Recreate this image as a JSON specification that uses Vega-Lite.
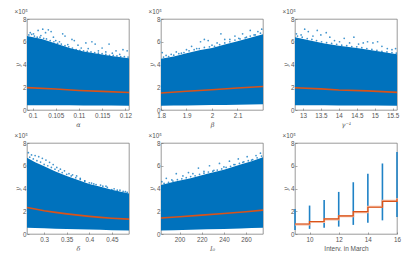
{
"$schema":"https://vega.github.io/schema/vega-lite/v6.json",
"padding":{"left":14,"top":8,"right":0,"bottom":0},
"background":"white",
"columns":3,
"spacing":{"row":33,"column":32},
"bounds":"flush",
"config":{
 "view":{"stroke":"#6e6e6e","strokeWidth":0.7},
 "axis":{"grid":false,"domain":false,"tickSize":-2,"tickWidth":0.5,"tickColor":"#555555","labelFont":"Liberation Sans","labelFontSize":6.3,"labelColor":"#555555","labelPadding":3,"labelOverlap":false,"labelSeparation":0,"titleFont":"DejaVu Serif","titleFontStyle":"italic","titleFontSize":6.5,"titleFontWeight":"normal","titleColor":"#555555","labelFlush":false},
 "axisX":{"labelPadding":4},
 "title":{"font":"Liberation Sans","fontSize":6.3,"fontWeight":"normal","color":"#555555","anchor":"start","offset":1}
},
"datasets":{
"aBand":[{"x":0.0988,"lo":42000,"hi":650000},{"x":0.102,"lo":42000,"hi":625000},{"x":0.105,"lo":41000,"hi":585000},{"x":0.108,"lo":41000,"hi":545000},{"x":0.111,"lo":40000,"hi":515000},{"x":0.114,"lo":40000,"hi":495000},{"x":0.117,"lo":39000,"hi":475000},{"x":0.1208,"lo":38000,"hi":455000}],
"aPts":[{"x":0.0992,"y":660000},{"x":0.0998,"y":665000},{"x":0.1004,"y":650000},{"x":0.101,"y":640000},{"x":0.1016,"y":640000},{"x":0.1024,"y":630000},{"x":0.103,"y":625000},{"x":0.1038,"y":610000},{"x":0.1046,"y":600000},{"x":0.1054,"y":585000},{"x":0.1062,"y":580000},{"x":0.107,"y":565000},{"x":0.1078,"y":555000},{"x":0.1086,"y":545000},{"x":0.1094,"y":530000},{"x":0.1102,"y":525000},{"x":0.111,"y":520000},{"x":0.1118,"y":515000},{"x":0.1126,"y":510000},{"x":0.1134,"y":505000},{"x":0.1142,"y":500000},{"x":0.115,"y":495000},{"x":0.1158,"y":490000},{"x":0.1166,"y":480000},{"x":0.1174,"y":480000},{"x":0.1182,"y":475000},{"x":0.119,"y":470000},{"x":0.1198,"y":470000},{"x":0.1206,"y":465000},{"x":0.0995,"y":680000},{"x":0.1002,"y":670000},{"x":0.1012,"y":700000},{"x":0.1018,"y":655000},{"x":0.1022,"y":710000},{"x":0.1028,"y":680000},{"x":0.1034,"y":705000},{"x":0.104,"y":690000},{"x":0.1045,"y":640000},{"x":0.105,"y":610000},{"x":0.1058,"y":600000},{"x":0.1065,"y":670000},{"x":0.107,"y":650000},{"x":0.1076,"y":575000},{"x":0.1085,"y":620000},{"x":0.109,"y":610000},{"x":0.1098,"y":570000},{"x":0.1105,"y":545000},{"x":0.1115,"y":590000},{"x":0.112,"y":540000},{"x":0.1128,"y":600000},{"x":0.1135,"y":580000},{"x":0.1142,"y":520000},{"x":0.115,"y":545000},{"x":0.1158,"y":510000},{"x":0.1165,"y":580000},{"x":0.1172,"y":500000},{"x":0.118,"y":520000},{"x":0.1188,"y":490000},{"x":0.1195,"y":530000},{"x":0.1204,"y":520000}],
"aLine":[{"x":0.0988,"m":197000},{"x":0.105,"m":184000},{"x":0.11,"m":172000},{"x":0.115,"m":164000},{"x":0.1208,"m":154000}],
"bBand":[{"x":1.8,"lo":38000,"hi":450000},{"x":1.85,"lo":39000,"hi":470000},{"x":1.9,"lo":40000,"hi":500000},{"x":1.95,"lo":41000,"hi":525000},{"x":2,"lo":43000,"hi":545000},{"x":2.05,"lo":45000,"hi":575000},{"x":2.1,"lo":46000,"hi":605000},{"x":2.15,"lo":48000,"hi":635000},{"x":2.2,"lo":50000,"hi":665000}],
"bPts":[{"x":1.81,"y":465000},{"x":1.83,"y":470000},{"x":1.85,"y":482000},{"x":1.87,"y":495000},{"x":1.89,"y":505000},{"x":1.91,"y":520000},{"x":1.93,"y":530000},{"x":1.95,"y":540000},{"x":1.97,"y":550000},{"x":1.99,"y":555000},{"x":2.01,"y":560000},{"x":2.03,"y":575000},{"x":2.05,"y":590000},{"x":2.07,"y":600000},{"x":2.09,"y":615000},{"x":2.11,"y":625000},{"x":2.13,"y":635000},{"x":2.15,"y":650000},{"x":2.17,"y":660000},{"x":2.19,"y":675000},{"x":1.805,"y":505000},{"x":1.82,"y":480000},{"x":1.84,"y":490000},{"x":1.86,"y":510000},{"x":1.88,"y":500000},{"x":1.9,"y":530000},{"x":1.92,"y":560000},{"x":1.94,"y":540000},{"x":1.955,"y":600000},{"x":1.97,"y":620000},{"x":1.985,"y":610000},{"x":2.0,"y":570000},{"x":2.02,"y":590000},{"x":2.035,"y":670000},{"x":2.05,"y":620000},{"x":2.07,"y":620000},{"x":2.09,"y":650000},{"x":2.105,"y":630000},{"x":2.12,"y":670000},{"x":2.135,"y":640000},{"x":2.15,"y":700000},{"x":2.165,"y":660000},{"x":2.18,"y":690000},{"x":2.195,"y":710000}],
"bLine":[{"x":1.8,"m":150000},{"x":1.9,"m":165000},{"x":2,"m":178000},{"x":2.1,"m":193000},{"x":2.2,"m":206000}],
"cBand":[{"x":12.78,"lo":42000,"hi":640000},{"x":13.2,"lo":42000,"hi":610000},{"x":13.6,"lo":41000,"hi":585000},{"x":14,"lo":40000,"hi":565000},{"x":14.5,"lo":40000,"hi":545000},{"x":15,"lo":39000,"hi":520000},{"x":15.62,"lo":38000,"hi":490000}],
"cPts":[{"x":12.85,"y":650000},{"x":12.98,"y":640000},{"x":13.12,"y":628000},{"x":13.25,"y":620000},{"x":13.38,"y":610000},{"x":13.52,"y":600000},{"x":13.66,"y":592000},{"x":13.8,"y":585000},{"x":13.94,"y":578000},{"x":14.08,"y":570000},{"x":14.22,"y":565000},{"x":14.36,"y":558000},{"x":14.5,"y":555000},{"x":14.64,"y":548000},{"x":14.78,"y":540000},{"x":14.92,"y":532000},{"x":15.06,"y":525000},{"x":15.2,"y":515000},{"x":15.34,"y":510000},{"x":15.48,"y":505000},{"x":15.6,"y":500000},{"x":12.82,"y":670000},{"x":12.95,"y":660000},{"x":13.05,"y":710000},{"x":13.15,"y":690000},{"x":13.28,"y":650000},{"x":13.4,"y":700000},{"x":13.5,"y":660000},{"x":13.65,"y":680000},{"x":13.75,"y":640000},{"x":13.88,"y":610000},{"x":14.02,"y":600000},{"x":14.15,"y":630000},{"x":14.3,"y":590000},{"x":14.42,"y":640000},{"x":14.55,"y":580000},{"x":14.68,"y":590000},{"x":14.8,"y":600000},{"x":14.95,"y":590000},{"x":15.08,"y":600000},{"x":15.2,"y":560000},{"x":15.35,"y":540000},{"x":15.48,"y":530000},{"x":15.58,"y":540000}],
"cLine":[{"x":12.78,"m":196000},{"x":13.5,"m":186000},{"x":14,"m":176000},{"x":14.8,"m":168000},{"x":15.62,"m":155000}],
"dBand":[{"x":0.262,"lo":55000,"hi":670000},{"x":0.28,"lo":52000,"hi":630000},{"x":0.3,"lo":50000,"hi":595000},{"x":0.325,"lo":47000,"hi":550000},{"x":0.35,"lo":45000,"hi":510000},{"x":0.375,"lo":42000,"hi":475000},{"x":0.4,"lo":39000,"hi":440000},{"x":0.425,"lo":37000,"hi":415000},{"x":0.45,"lo":34000,"hi":390000},{"x":0.488,"lo":30000,"hi":355000}],
"dPts":[{"x":0.265,"y":715000},{"x":0.272,"y":695000},{"x":0.28,"y":690000},{"x":0.288,"y":680000},{"x":0.296,"y":665000},{"x":0.304,"y":650000},{"x":0.312,"y":630000},{"x":0.32,"y":610000},{"x":0.328,"y":585000},{"x":0.336,"y":570000},{"x":0.345,"y":555000},{"x":0.355,"y":530000},{"x":0.363,"y":520000},{"x":0.372,"y":510000},{"x":0.38,"y":490000},{"x":0.39,"y":465000},{"x":0.4,"y":450000},{"x":0.41,"y":440000},{"x":0.425,"y":430000},{"x":0.437,"y":420000},{"x":0.45,"y":390000},{"x":0.462,"y":385000},{"x":0.475,"y":375000},{"x":0.484,"y":365000},{"x":0.268,"y":675000},{"x":0.276,"y":660000},{"x":0.284,"y":645000},{"x":0.292,"y":632000},{"x":0.3,"y":612000},{"x":0.308,"y":600000},{"x":0.316,"y":585000},{"x":0.324,"y":570000},{"x":0.332,"y":555000},{"x":0.34,"y":540000},{"x":0.35,"y":525000},{"x":0.36,"y":510000},{"x":0.37,"y":495000},{"x":0.38,"y":480000},{"x":0.39,"y":468000},{"x":0.405,"y":448000},{"x":0.415,"y":435000},{"x":0.43,"y":420000},{"x":0.44,"y":410000},{"x":0.455,"y":397000},{"x":0.468,"y":385000},{"x":0.48,"y":372000}],
"dLine":[{"x":0.262,"m":233000},{"x":0.28,"m":220000},{"x":0.3,"m":205000},{"x":0.325,"m":190000},{"x":0.35,"m":177000},{"x":0.375,"m":166000},{"x":0.4,"m":155000},{"x":0.425,"m":146000},{"x":0.45,"m":139000},{"x":0.488,"m":131000}],
"eBand":[{"x":183.2,"lo":30000,"hi":430000},{"x":195,"lo":33000,"hi":460000},{"x":210,"lo":37000,"hi":490000},{"x":225,"lo":41000,"hi":530000},{"x":240,"lo":45000,"hi":565000},{"x":255,"lo":49000,"hi":610000},{"x":265,"lo":52000,"hi":640000},{"x":275.3,"lo":55000,"hi":675000}],
"ePts":[{"x":186,"y":445000},{"x":190,"y":455000},{"x":194,"y":465000},{"x":198,"y":478000},{"x":202,"y":485000},{"x":206,"y":495000},{"x":210,"y":505000},{"x":214,"y":512000},{"x":218,"y":525000},{"x":222,"y":535000},{"x":226,"y":545000},{"x":230,"y":552000},{"x":234,"y":562000},{"x":238,"y":572000},{"x":242,"y":585000},{"x":246,"y":595000},{"x":250,"y":610000},{"x":254,"y":620000},{"x":258,"y":635000},{"x":262,"y":645000},{"x":266,"y":655000},{"x":270,"y":670000},{"x":274,"y":685000},{"x":184,"y":460000},{"x":188,"y":490000},{"x":193,"y":475000},{"x":197,"y":530000},{"x":203,"y":510000},{"x":208,"y":540000},{"x":212,"y":530000},{"x":217,"y":580000},{"x":222,"y":550000},{"x":227,"y":600000},{"x":231,"y":560000},{"x":236,"y":620000},{"x":240,"y":590000},{"x":245,"y":640000},{"x":249,"y":610000},{"x":253,"y":660000},{"x":257,"y":630000},{"x":261,"y":680000},{"x":265,"y":650000},{"x":269,"y":690000},{"x":273,"y":710000}],
"eLine":[{"x":183.2,"m":140000},{"x":200,"m":152000},{"x":220,"m":166000},{"x":240,"m":180000},{"x":260,"m":196000},{"x":275.3,"m":210000}],
"fBars":[{"x":9,"lo":35000,"hi":220000},{"x":10,"lo":45000,"hi":250000},{"x":11,"lo":55000,"hi":300000},{"x":12,"lo":65000,"hi":370000},{"x":13,"lo":80000,"hi":455000},{"x":14,"lo":100000,"hi":530000},{"x":15,"lo":120000,"hi":620000},{"x":16,"lo":150000,"hi":720000}],
"fStep":[{"x":9,"m":88000,"u":84000},{"x":10,"m":110000,"u":106000},{"x":11,"m":133000,"u":128000},{"x":12,"m":160000,"u":155000},{"x":13,"m":197000,"u":192000},{"x":14,"m":235000,"u":240000},{"x":15,"m":287000,"u":293000},{"x":16,"m":310000,"u":315000}]
},
"concat":[
{"title":"×10⁵","width":102,"height":91,
 "layer":[
 {"data":{"name":"aBand"},"mark":{"type":"area","color":"#0072BD","clip":true},"encoding":{"x":{"field":"x","type":"quantitative","scale":{"domain":[0.0988,0.1208],"nice":false,"zero":false},"axis":{"values":[0.1,0.105,0.11,0.115,0.12],"tickCount":5,"labelExpr":"datum.value","title":"α","titlePadding":3}},"y":{"field":"hi","type":"quantitative","scale":{"domain":[0,800000],"nice":false},"axis":{"values":[0,200000,400000,600000,800000],"tickCount":5,"labelExpr":"datum.value/100000","title":"y","titlePadding":2}},"y2":{"field":"lo"}}},
 {"data":{"name":"aPts"},"mark":{"type":"point","filled":true,"color":"#0072BD","size":3,"opacity":0.75,"clip":true},"encoding":{"x":{"field":"x","type":"quantitative"},"y":{"field":"y","type":"quantitative"}}},
 {"data":{"name":"aLine"},"mark":{"type":"line","color":"#D95319","strokeWidth":1.6},"encoding":{"x":{"field":"x","type":"quantitative"},"y":{"field":"m","type":"quantitative"}}}
 ]},
{"title":"×10⁵","width":102,"height":91,
 "layer":[
 {"data":{"name":"bBand"},"mark":{"type":"area","color":"#0072BD","clip":true},"encoding":{"x":{"field":"x","type":"quantitative","scale":{"domain":[1.8,2.2],"nice":false,"zero":false},"axis":{"values":[1.8,1.9,2,2.1],"tickCount":4,"labelExpr":"datum.value","title":"β","titlePadding":3}},"y":{"field":"hi","type":"quantitative","scale":{"domain":[0,800000],"nice":false},"axis":{"values":[0,200000,400000,600000,800000],"tickCount":5,"labelExpr":"datum.value/100000","title":"y","titlePadding":2}},"y2":{"field":"lo"}}},
 {"data":{"name":"bPts"},"mark":{"type":"point","filled":true,"color":"#0072BD","size":3,"opacity":0.75,"clip":true},"encoding":{"x":{"field":"x","type":"quantitative"},"y":{"field":"y","type":"quantitative"}}},
 {"data":{"name":"bLine"},"mark":{"type":"line","color":"#D95319","strokeWidth":1.6},"encoding":{"x":{"field":"x","type":"quantitative"},"y":{"field":"m","type":"quantitative"}}}
 ]},
{"title":"×10⁵","width":102,"height":91,
 "layer":[
 {"data":{"name":"cBand"},"mark":{"type":"area","color":"#0072BD","clip":true},"encoding":{"x":{"field":"x","type":"quantitative","scale":{"domain":[12.78,15.62],"nice":false,"zero":false},"axis":{"values":[13,13.5,14,14.5,15,15.5],"tickCount":6,"labelExpr":"datum.value","title":"γ⁻¹","titlePadding":3}},"y":{"field":"hi","type":"quantitative","scale":{"domain":[0,800000],"nice":false},"axis":{"values":[0,200000,400000,600000,800000],"tickCount":5,"labelExpr":"datum.value/100000","title":"y","titlePadding":2}},"y2":{"field":"lo"}}},
 {"data":{"name":"cPts"},"mark":{"type":"point","filled":true,"color":"#0072BD","size":3,"opacity":0.75,"clip":true},"encoding":{"x":{"field":"x","type":"quantitative"},"y":{"field":"y","type":"quantitative"}}},
 {"data":{"name":"cLine"},"mark":{"type":"line","color":"#D95319","strokeWidth":1.6},"encoding":{"x":{"field":"x","type":"quantitative"},"y":{"field":"m","type":"quantitative"}}}
 ]},
{"title":"×10⁵","width":102,"height":91,
 "layer":[
 {"data":{"name":"dBand"},"mark":{"type":"area","color":"#0072BD","clip":true},"encoding":{"x":{"field":"x","type":"quantitative","scale":{"domain":[0.262,0.488],"nice":false,"zero":false},"axis":{"values":[0.3,0.35,0.4,0.45],"tickCount":4,"labelExpr":"datum.value","title":"δ","titlePadding":3}},"y":{"field":"hi","type":"quantitative","scale":{"domain":[0,800000],"nice":false},"axis":{"values":[0,200000,400000,600000,800000],"tickCount":5,"labelExpr":"datum.value/100000","title":"y","titlePadding":2}},"y2":{"field":"lo"}}},
 {"data":{"name":"dPts"},"mark":{"type":"point","filled":true,"color":"#0072BD","size":3,"opacity":0.75,"clip":true},"encoding":{"x":{"field":"x","type":"quantitative"},"y":{"field":"y","type":"quantitative"}}},
 {"data":{"name":"dLine"},"mark":{"type":"line","color":"#D95319","strokeWidth":1.6},"encoding":{"x":{"field":"x","type":"quantitative"},"y":{"field":"m","type":"quantitative"}}}
 ]},
{"title":"×10⁵","width":102,"height":91,
 "layer":[
 {"data":{"name":"eBand"},"mark":{"type":"area","color":"#0072BD","clip":true},"encoding":{"x":{"field":"x","type":"quantitative","scale":{"domain":[183.2,275.3],"nice":false,"zero":false},"axis":{"values":[200,220,240,260],"tickCount":4,"labelExpr":"datum.value","title":"I₀","titlePadding":3}},"y":{"field":"hi","type":"quantitative","scale":{"domain":[0,800000],"nice":false},"axis":{"values":[0,200000,400000,600000,800000],"tickCount":5,"labelExpr":"datum.value/100000","title":"y","titlePadding":2}},"y2":{"field":"lo"}}},
 {"data":{"name":"ePts"},"mark":{"type":"point","filled":true,"color":"#0072BD","size":3,"opacity":0.75,"clip":true},"encoding":{"x":{"field":"x","type":"quantitative"},"y":{"field":"y","type":"quantitative"}}},
 {"data":{"name":"eLine"},"mark":{"type":"line","color":"#D95319","strokeWidth":1.6},"encoding":{"x":{"field":"x","type":"quantitative"},"y":{"field":"m","type":"quantitative"}}}
 ]},
{"title":"×10⁵","width":102,"height":91,
 "layer":[
 {"data":{"name":"fBars"},"mark":{"type":"rule","color":"#1f82c6","strokeWidth":1.6},"encoding":{"x":{"field":"x","type":"quantitative","scale":{"domain":[9,16],"nice":false,"zero":false},"axis":{"values":[10,12,14,16],"tickCount":4,"labelExpr":"datum.value","title":"Interv. in March","titleFont":"Liberation Sans","titleFontStyle":"normal","titlePadding":3}},"y":{"field":"lo","type":"quantitative","scale":{"domain":[0,800000],"nice":false},"axis":{"values":[0,200000,400000,600000,800000],"tickCount":5,"labelExpr":"datum.value/100000","title":"y","titlePadding":2}},"y2":{"field":"hi"}}},
 {"data":{"name":"fStep"},"mark":{"type":"line","color":"#f4b79d","strokeWidth":2,"interpolate":"step-after"},"encoding":{"x":{"field":"x","type":"quantitative"},"y":{"field":"u","type":"quantitative"}}},
 {"data":{"name":"fStep"},"mark":{"type":"line","color":"#D95319","strokeWidth":1.2,"interpolate":"step-after"},"encoding":{"x":{"field":"x","type":"quantitative"},"y":{"field":"m","type":"quantitative"}}}
 ]}
]
}
